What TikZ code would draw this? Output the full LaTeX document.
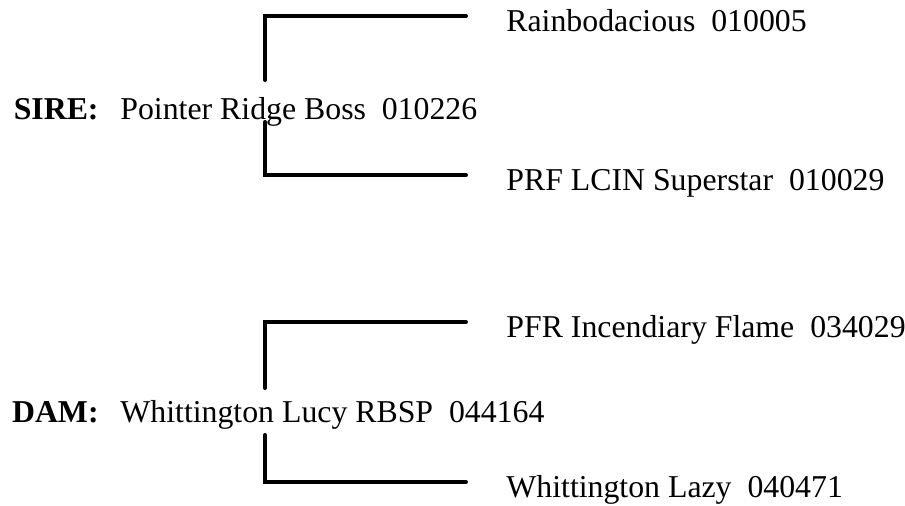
\documentclass[tikz,border=0pt]{standalone}
\usepackage{fontspec}
\setmainfont{Liberation Serif}
\tikzset{
  horse/.style={inner sep=0pt, font=\fontsize{15.9}{19}\selectfont},
  side/.style={horse, anchor=base east, font=\fontsize{15.9}{19}\selectfont\bfseries},
  parent/.style={horse, anchor=west, text height=15.5pt, text depth=0pt},
  bracket/.style={line width=2pt, line cap=round, line join=miter, shorten >=20pt},
}

\begin{document}
\begin{tikzpicture}[x=0.5pt,y=-0.5pt]
\useasboundingbox (0,0) rectangle (905,506);

% sire
\node[side] (sirelbl) at (99,120) {SIRE:};
\node[horse, anchor=base west] (sire) at (120,120) {Pointer Ridge Boss~~010226};
\node[parent] (sire1) at (506,16) {Rainbodacious~~010005};
\node[parent] (sire2) at (506,175) {PRF LCIN Superstar~~010029};
\coordinate (sireup) at (265,80);
\coordinate (siredown) at (265,122);
\draw[bracket] (sireup) |- (sire1.west);
\draw[bracket] (siredown) |- (sire2.west);

% dam
\node[side] (damlbl) at (99,423) {DAM:};
\node[horse, anchor=base west] (dam) at (120,423) {Whittington Lucy RBSP~~044164};
\node[parent] (dam1) at (506,322) {PFR Incendiary Flame~~034029};
\node[parent] (dam2) at (506,482) {Whittington Lazy~~040471};
\coordinate (damup) at (265,388);
\coordinate (damdown) at (265,435);
\draw[bracket] (damup) |- (dam1.west);
\draw[bracket] (damdown) |- (dam2.west);

\end{tikzpicture}
\end{document}
